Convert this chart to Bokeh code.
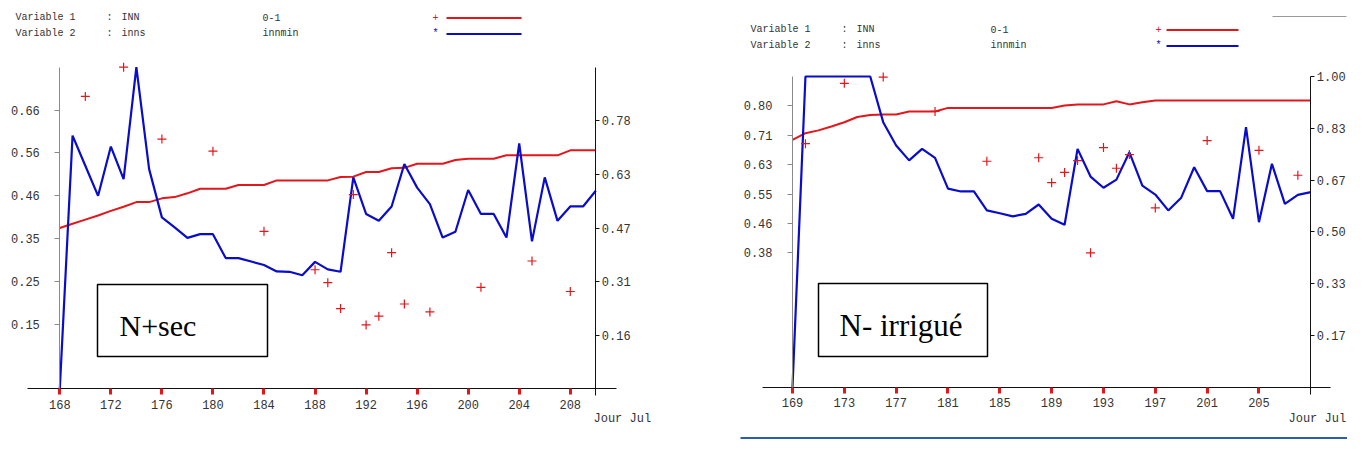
import numpy as np
from bokeh.plotting import figure
from bokeh.models import Range1d, LinearAxis, FixedTicker, Label, BoxAnnotation, Arrow
from bokeh.layouts import row
from bokeh.embed import file_html
from bokeh.resources import INLINE

# ---------------- data : panel A (N+sec) ----------------
days_a = list(range(168, 211))
inn_a = [0.385, 0.395, 0.405, 0.415, 0.426, 0.436, 0.447, 0.447, 0.456, 0.459,
         0.468, 0.479, 0.479, 0.479, 0.488, 0.488, 0.488, 0.499, 0.499, 0.499,
         0.499, 0.499, 0.507, 0.508, 0.519, 0.519, 0.528, 0.529, 0.539, 0.539,
         0.539, 0.548, 0.551, 0.551, 0.551, 0.559, 0.559, 0.559, 0.559, 0.559,
         0.571, 0.571, 0.571]
inns_a = [0.0, 0.740, 0.652, 0.564, 0.708, 0.613, 0.940, 0.642, 0.501, 0.472,
          0.441, 0.452, 0.452, 0.382, 0.382, 0.372, 0.362, 0.343, 0.342, 0.332,
          0.371, 0.349, 0.342, 0.618, 0.511, 0.491, 0.533, 0.657, 0.588, 0.540,
          0.442, 0.459, 0.581, 0.511, 0.511, 0.442, 0.717, 0.431, 0.618, 0.491,
          0.533, 0.533, 0.579]
obs_days_a = [170, 173, 176, 180, 184, 188, 189, 190, 191, 192, 193, 194, 195, 197, 201, 205, 208]
obs_inn_a = [0.700, 0.770, 0.598, 0.569, 0.377, 0.285, 0.254, 0.192, 0.465, 0.153,
             0.174, 0.326, 0.203, 0.184, 0.243, 0.306, 0.233]
xticks_a = [168, 172, 176, 180, 184, 188, 192, 196, 200, 204, 208]
ylabels_left_a = ["0.15", "0.25", "0.35", "0.46", "0.56", "0.66"]
ylabels_right_a = ["0.16", "0.31", "0.47", "0.63", "0.78"]
ymax_left_a = 0.77
ymax_right_a = 0.94

# ---------------- data : panel B (N- irrigué) ----------------
days_b = list(range(169, 210))
inn_b = [0.705, 0.724, 0.732, 0.743, 0.755, 0.770, 0.776, 0.777, 0.777, 0.786,
         0.786, 0.786, 0.796, 0.796, 0.796, 0.796, 0.796, 0.796, 0.796, 0.796,
         0.796, 0.803, 0.806, 0.806, 0.806, 0.815, 0.806, 0.812, 0.817, 0.817,
         0.817, 0.817, 0.817, 0.817, 0.817, 0.817, 0.817, 0.817, 0.817, 0.817,
         0.817]
inns_b = [0.0, 1.0, 1.0, 1.0, 1.0, 1.0, 1.0, 0.853, 0.778, 0.730,
          0.767, 0.738, 0.639, 0.630, 0.630, 0.569, 0.560, 0.550, 0.558, 0.588,
          0.542, 0.523, 0.767, 0.678, 0.642, 0.668, 0.756, 0.649, 0.620, 0.569,
          0.610, 0.708, 0.631, 0.631, 0.542, 0.837, 0.531, 0.719, 0.590, 0.619,
          0.628]
obs_days_b = [170, 173, 176, 180, 184, 188, 189, 190, 191, 192, 193, 194, 195, 197, 201, 205, 208]
obs_inn_b = [0.694, 0.866, 0.884, 0.786, 0.644, 0.654, 0.583, 0.612, 0.646, 0.383,
             0.683, 0.624, 0.663, 0.511, 0.703, 0.675, 0.604]
xticks_b = [169, 173, 177, 181, 185, 189, 193, 197, 201, 205]
ylabels_left_b = ["0.38", "0.46", "0.55", "0.63", "0.71", "0.80"]
ylabels_right_b = ["0.17", "0.33", "0.50", "0.67", "0.83", "1.00"]
ymax_left_b = 0.8855
ymax_right_b = 1.0

header_names = ["Variable 1", "Variable 2"]
header_vars = ["INN", "inns"]
header_units = ["0-1", "innmin"]

MONO = "Liberation Mono"
RED = "#e3161b"
BLUE = "#0a0ccc"
TXT = "#333333"
H = 439


def lin(v0, p0, v1, p1):
    return lambda p: v0 + (p - p0) * (v1 - v0) / (p1 - p0)


def build(ox, width, days, inn, inns, od, ov, xticks, frame_px,
          ylmax, yrmax, ylticks, yllabels, yrticks, yrlabels, xline_px, rstub_px):
    x0, x1 = days[0], days[-1]
    fl, fr, ft, fb = frame_px          # page pixels of the plotting area corners
    fx = lin(x0, fl - ox, x1, fr - ox)
    fx_page = lambda p: fx(p - ox)
    fy = lin(0, fb, ylmax, ft)
    fyr = lin(0, fb, yrmax, ft)
    p = figure(width=width, height=H,
               x_range=Range1d(fx(0), fx(width)), y_range=Range1d(fy(H), fy(0)),
               output_backend="svg", toolbar_location=None,
               min_border_left=0, min_border_right=0, min_border_top=0, min_border_bottom=0)
    p.extra_y_ranges = {"r": Range1d(fyr(H), fyr(0))}
    p.outline_line_color = None
    p.xgrid.visible = False
    p.ygrid.visible = False
    p.background_fill_color = "white"
    p.border_fill_color = "white"

    xa = p.xaxis[0]
    xa.fixed_location = 0
    xa.bounds = (fx_page(xline_px[0]), fx_page(xline_px[1]))
    xa.ticker = FixedTicker(ticks=xticks)
    xa.axis_line_color = "#111111"
    xa.major_tick_line_color = RED
    xa.major_tick_line_width = 3
    xa.major_tick_in = 0
    xa.major_tick_out = 6
    xa.minor_tick_line_color = None
    xa.major_label_standoff = 5
    xa.major_label_text_font = MONO
    xa.major_label_text_font_size = "12px"
    xa.major_label_text_color = TXT

    ya = p.yaxis[0]
    ya.fixed_location = x0
    ya.bounds = (0, ylmax)
    ya.ticker = FixedTicker(ticks=ylticks)
    ya.major_label_overrides = {t: s for t, s in zip(ylticks, yllabels)}
    ya.axis_line_color = "#8a8a8a"
    ya.major_tick_line_color = "#8a8a8a"
    ya.major_tick_in = 0
    ya.major_tick_out = 5
    ya.minor_tick_line_color = None
    ya.major_label_standoff = 15
    ya.major_label_text_font = MONO
    ya.major_label_text_font_size = "12px"
    ya.major_label_text_color = TXT

    ra = LinearAxis(y_range_name="r", ticker=FixedTicker(ticks=yrticks), fixed_location=x1,
                    bounds=(fyr(rstub_px), yrmax),
                    major_label_overrides={t: s for t, s in zip(yrticks, yrlabels)},
                    axis_line_color="#111111", major_tick_line_color="#111111",
                    major_tick_in=0, major_tick_out=4, minor_tick_line_color=None,
                    major_label_standoff=2, major_label_text_font=MONO,
                    major_label_text_font_size="12px", major_label_text_color=TXT)
    p.add_layout(ra, "right")

    p.line(days, inn, line_color=RED, line_width=2)
    p.line(days, inns, line_color=BLUE, line_width=2.2, y_range_name="r")
    p.scatter(od, ov, marker="cross", size=9, line_color=RED, line_width=1.2)
    return p, fx_page, fy


def txt(p, x, y, s, size="10px", color=TXT, font=MONO, baseline="middle"):
    p.add_layout(Label(x=x, y=y, text=s, text_font=font, text_font_size=size,
                       text_color=color, text_baseline=baseline, text_align="left"))


def decorate(p, fx, fy, hy, hx_var, hx_val, hx_leg, leg_x0, leg_x1, box, tag, tag_x, tag_size, jour_x):
    for i in range(len(header_names)):
        yy = hy + 16 * i
        txt(p, fx(hx_var), fy(yy), header_names[i])
        txt(p, fx(hx_var + 91), fy(yy), ":")
        txt(p, fx(hx_var + 106), fy(yy), header_vars[i])
        txt(p, fx(hx_val), fy(yy), header_units[i])
    for i, (sym, col) in enumerate([("+", RED), ("*", BLUE)]):
        yy = hy + 16 * i
        txt(p, fx(hx_leg), fy(yy), sym, color=col)
        p.add_layout(Arrow(end=None, x_start=fx(leg_x0), x_end=fx(leg_x1), y_start=fy(yy + 1),
                           y_end=fy(yy + 1), line_color=col, line_width=2))
    bl, bt, br, bb = box
    p.add_layout(BoxAnnotation(left=fx(bl), right=fx(br), top=fy(bt), bottom=fy(bb),
                               fill_color=None, line_color="black", line_width=1.5, line_alpha=1))
    txt(p, fx(tag_x), fy(325), tag, size=tag_size, color="black", font="Liberation Serif",
        baseline="alphabetic")
    txt(p, fx(jour_x), fy(418), "Jour Jul", size="12px")


# ---- panel A
yl_a = [ymax_left_a * (2 * k + 3) / 15 for k in range(len(ylabels_left_a))]
yr_a = [ymax_right_a * (k + 1) / 6 for k in range(len(ylabels_right_a))]
pa, fxa, fya = build(0, 692, days_a, inn_a, inns_a, obs_days_a, obs_inn_a, xticks_a,
                     (59.3, 595.3, 66.7, 388.3), ymax_left_a, ymax_right_a,
                     yl_a, ylabels_left_a, yr_a, ylabels_right_a, (27, 616), 395)
decorate(pa, fxa, fya, 16.5, 15, 262, 432, 446, 521, (97, 284, 267, 356), "N+sec", 119, "30px", 593)

# ---- panel B
yl_b = list(np.linspace(0.383, 0.802, len(ylabels_left_b)))
yr_b = [ymax_right_b * (k + 1) / 6 for k in range(len(ylabels_right_b))]
pb, fxb, fyb = build(692, 655, days_b, inn_b, inns_b, obs_days_b, obs_inn_b, xticks_b,
                     (792, 1310.3, 76, 386.7), ymax_left_b, ymax_right_b,
                     yl_b, ylabels_left_b, yr_b, ylabels_right_b, (762, 1330), 394)
decorate(pb, fxb, fyb, 28.5, 750, 990, 1155, 1166, 1238, (818, 283, 987, 356), "N- irrigué", 839, "31px", 1288)
pb.add_layout(Arrow(end=None, x_start=fxb(1272), x_end=fxb(1346), y_start=fyb(16), y_end=fyb(16),
                    line_color="#9a9a9a", line_width=1))
pb.add_layout(Arrow(end=None, x_start=fxb(740), x_end=fxb(1347), y_start=fyb(437.5), y_end=fyb(437.5),
                    line_color="#2a5db0", line_width=2))

layout = row(pa, pb)
open("out.html", "w").write(file_html(layout, INLINE))
